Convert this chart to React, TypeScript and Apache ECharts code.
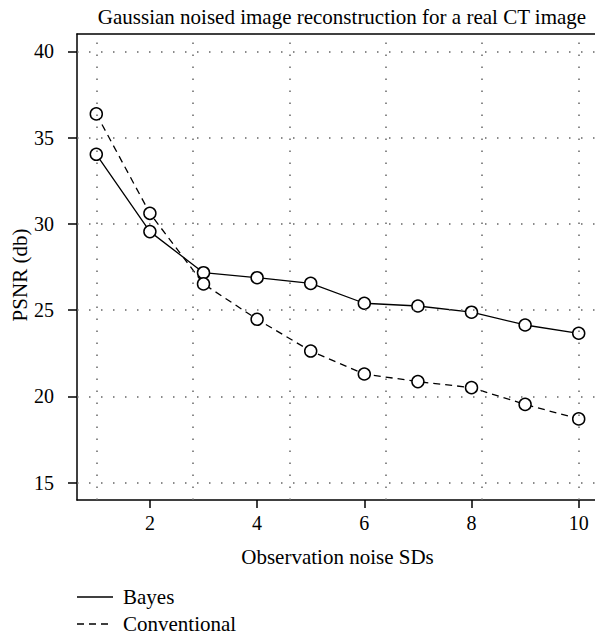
import React, { useEffect, useRef } from "react";
import * as echarts from "echarts";

const noiseSDs = [1, 2, 3, 4, 5, 6, 7, 8, 9, 10];
const bayes = [34.03, 29.55, 27.17, 26.88, 26.55, 25.4, 25.24, 24.88, 24.14, 23.66];
const conventional = [36.37, 30.61, 26.52, 24.47, 22.63, 21.3, 20.86, 20.51, 19.54, 18.7];
const xTicks = [2, 4, 6, 8, 10];
const yTicks = [15, 20, 25, 30, 35, 40];
const gridX = [1, 2.8, 4.6, 6.4, 8.2, 10];
const gridY = [15, 20, 25, 30, 35, 40];

const FONT = "'Liberation Serif', 'DejaVu Serif', serif";

export default function App() {
  const ref = useRef<HTMLDivElement>(null);
  useEffect(() => {
    if (!ref.current) return;
    const chart = echarts.init(ref.current, undefined, { renderer: "svg" });
    const dotted = { color: "#666", width: 1.5, type: [1.5, 10.5] as any };
    const frame = { show: true, lineStyle: { color: "#000", width: 1.5 } };
    chart.setOption({
      animation: false,
      backgroundColor: "#fff",
      textStyle: { fontFamily: FONT, color: "#000" },
      title: {
        text: "Gaussian noised image reconstruction for a real CT image",
        left: 337,
        textAlign: "center",
        top: 1,
        textStyle: { fontFamily: FONT, fontSize: 21, fontWeight: "normal", color: "#000" },
      },
      grid: {
        left: 77,
        top: 34,
        width: 521,
        height: 466,
        show: false,
        containLabel: false,
        outerBoundsMode: "none",
      },
      xAxis: [
        {
          type: "value",
          position: "bottom",
          min: 0.64,
          max: 10.36,
          name: "Observation noise SDs",
          nameLocation: "middle",
          nameGap: 46,
          nameTextStyle: { fontFamily: FONT, fontSize: 21, color: "#000" },
          axisLine: frame,
          axisTick: { show: true, length: 8, customValues: xTicks, lineStyle: { color: "#000", width: 1.5 } },
          axisLabel: { customValues: xTicks, margin: 13, fontFamily: FONT, fontSize: 20, color: "#000" },
          splitLine: { show: false },
        },
        {
          type: "value",
          position: "top",
          min: 0.64,
          max: 10.36,
          axisLine: frame,
          axisTick: { show: false },
          axisLabel: { show: false },
          splitLine: { show: false },
        },
      ],
      yAxis: {
        type: "value",
        min: 14,
        max: 41,
        axisLine: frame,
        axisTick: { show: true, length: 9, customValues: yTicks, lineStyle: { color: "#000", width: 1.5 } },
        axisLabel: { customValues: yTicks, margin: 23, fontFamily: FONT, fontSize: 20, color: "#000" },
        splitLine: { show: false },
      },
      graphic: [
        {
          type: "text",
          x: 20,
          y: 275,
          rotation: Math.PI / 2,
          style: {
            text: "PSNR (db)",
            fontFamily: FONT,
            fontSize: 21,
            fill: "#000",
            textAlign: "center",
            textVerticalAlign: "middle",
          },
        },
        { type: "line", shape: { x1: 77, y1: 597, x2: 113, y2: 597 }, style: { stroke: "#000", lineWidth: 1.3 } },
        {
          type: "text",
          x: 123,
          y: 597,
          style: { text: "Bayes", fontFamily: FONT, fontSize: 21, fill: "#000", textVerticalAlign: "middle" },
        },
        {
          type: "line",
          shape: { x1: 77, y1: 624, x2: 113, y2: 624 },
          style: { stroke: "#000", lineWidth: 1.3, lineDash: [7, 5] },
        },
        {
          type: "text",
          x: 123,
          y: 624,
          style: { text: "Conventional", fontFamily: FONT, fontSize: 21, fill: "#000", textVerticalAlign: "middle" },
        },
      ],
      series: [
        {
          type: "line",
          data: [],
          z: 1,
          silent: true,
          markLine: {
            silent: true,
            symbol: ["none", "none"],
            label: { show: false },
            lineStyle: dotted,
            emphasis: { disabled: true },
            data: [
              ...gridX.map((v) => ({ xAxis: v })),
              ...gridY.map((v) => ({ yAxis: v })),
            ],
          },
        },
        {
          name: "Bayes",
          type: "line",
          z: 3,
          data: noiseSDs.map((x, i) => [x, bayes[i]]),
          symbol: "circle",
          symbolSize: 12,
          itemStyle: { color: "#fff", borderColor: "#000", borderWidth: 1.5 },
          lineStyle: { color: "#000", width: 1.3, type: "solid" },
        },
        {
          name: "Conventional",
          type: "line",
          z: 3,
          data: noiseSDs.map((x, i) => [x, conventional[i]]),
          symbol: "circle",
          symbolSize: 12,
          itemStyle: { color: "#fff", borderColor: "#000", borderWidth: 1.5 },
          lineStyle: { color: "#000", width: 1.3, type: [7, 5] },
        },
      ],
    });
    return () => chart.dispose();
  }, []);
  return (
    <div
      ref={ref}
      style={{ position: "absolute", left: 0, top: 0, width: 595, height: 636, overflow: "hidden" }}
    />
  );
}
